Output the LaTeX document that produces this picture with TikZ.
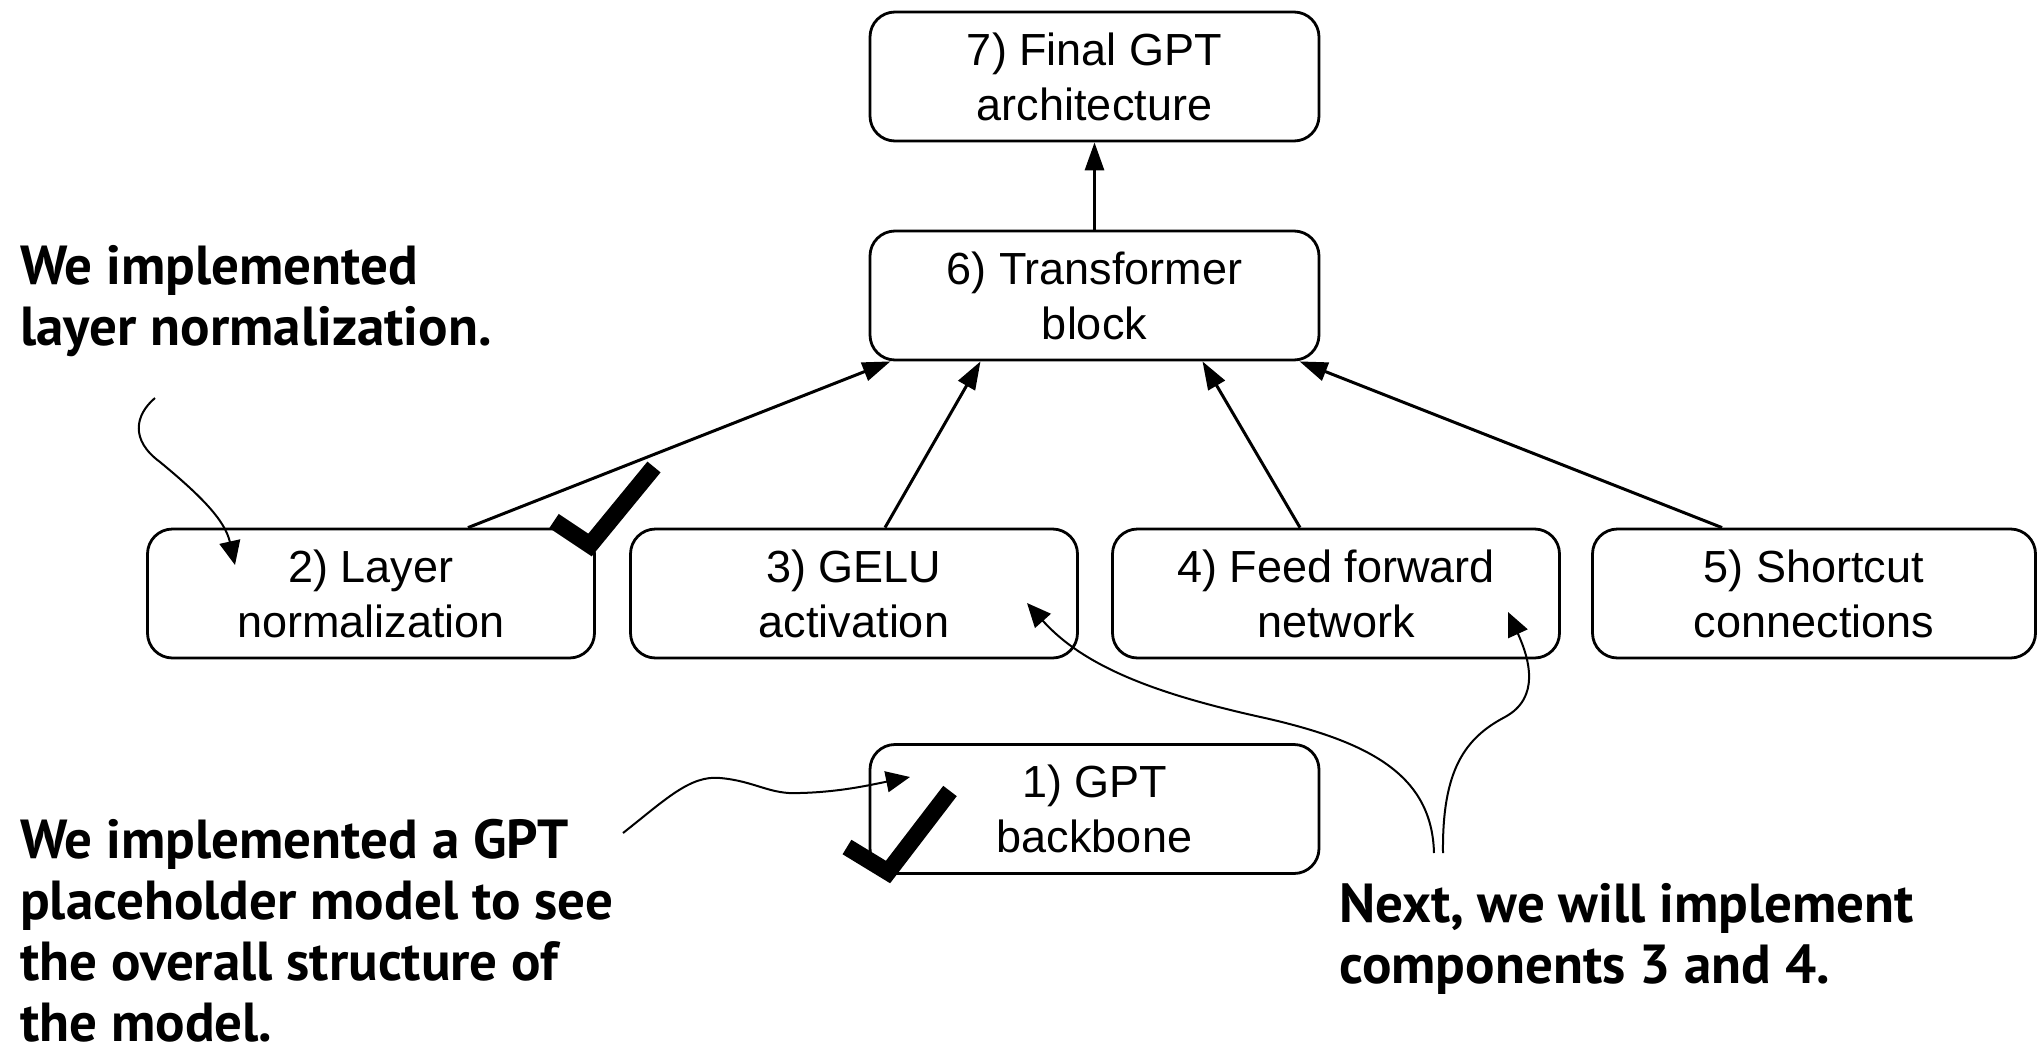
\documentclass[tikz,border=0pt]{standalone}
\usepackage{fontspec}
\setmainfont{Liberation Sans}
\newfontfamily\notefont{PT Sans}
\usetikzlibrary{arrows.meta,calc}

\begin{document}
\begin{tikzpicture}[x=1pt,y=-1pt,
  stage/.style={draw, line width=2.8pt, rounded corners=25pt,
    minimum width=449pt, minimum height=129pt, align=center, inner sep=0pt,
    font=\fontsize{45}{55}\selectfont},
  flow/.style={line width=3pt, -{Triangle[length=28pt,width=19pt]}},
  remark/.style={line width=2pt, -{Triangle[length=24pt,width=21pt]}},
  note/.style={anchor=base west, align=left, inner sep=0pt,
    font=\notefont\bfseries\fontsize{55}{61}\selectfont},
  tick/.style={line width=17pt, line join=miter, line cap=butt}]

\useasboundingbox (0,0) rectangle (2038,1055);

% stages of the build-up
\node[stage] (b7) at (1094.5,76.5) {7) Final GPT\\architecture};
\node[stage] (b6) at (1094.5,295.5) {6) Transformer\\block};
\node[stage, minimum width=447pt] (b2) at (371,593.5) {2) Layer\\normalization};
\node[stage, minimum width=447pt] (b3) at (854,593.5) {3) GELU\\activation};
\node[stage, minimum width=447pt] (b4) at (1336,593.5) {4) Feed forward\\network};
\node[stage, minimum width=443pt] (b5) at (1814,593.5) {5) Shortcut\\connections};
\node[stage] (b1) at (1094.5,809) {1) GPT\\backbone};

% components feeding the transformer block
\draw[flow] ([xshift=97pt]b2.north) -- ([xshift=-204pt]b6.south);
\draw[flow] ([xshift=31pt]b3.north) -- ([xshift=-114pt]b6.south);
\draw[flow] ([xshift=-36pt]b4.north) -- ([xshift=108pt]b6.south);
\draw[flow] ([xshift=-92pt]b5.north) -- ([xshift=205pt]b6.south);
\draw[flow] (b6) -- (b7);

% annotations (anchored at the baseline of their last line)
\node[note] (n1) at (20,345) {We implemented\\layer normalization.};
\node[note] (n2) at (20,1041) {We implemented a GPT\\placeholder model to see\\the overall structure of\\the model.};
\node[note] (n3) at (1339,983) {Next, we will implement\\components 3 and 4.};

\coordinate (s1) at (155,398);
\coordinate (s2) at (623,833);
\coordinate (s3) at (1434,853);
\coordinate (s4) at (1443,853);

\draw[remark] (s1) .. controls (135,415) and (130,440) .. (160,462)
  .. controls (200,495) and (225,520) .. ($(b2.center)+(-136,-28.5)$);
\draw[remark] (s2) .. controls (665,800) and (690,775) .. (720,778)
  .. controls (755,781) and (770,795) .. (800,793)
  .. controls (840,792) and (870,785) .. ($(b1.center)+(-184.5,-32)$);
\draw[remark] (s3) .. controls (1432,775) and (1370,742) .. (1265,718)
  .. controls (1160,695) and (1085,668) .. ($(b3.center)+(173,9.5)$);
\draw[remark] (s4) .. controls (1442,770) and (1465,738) .. (1505,717)
  .. controls (1540,698) and (1530,660) .. ($(b4.center)+(172,18.5)$);

% done marks
\draw[tick] (554,521) -- (590,545) -- (654,467);
\draw[tick] (847,847) -- (888,872) -- (950,791);

\end{tikzpicture}
\end{document}
